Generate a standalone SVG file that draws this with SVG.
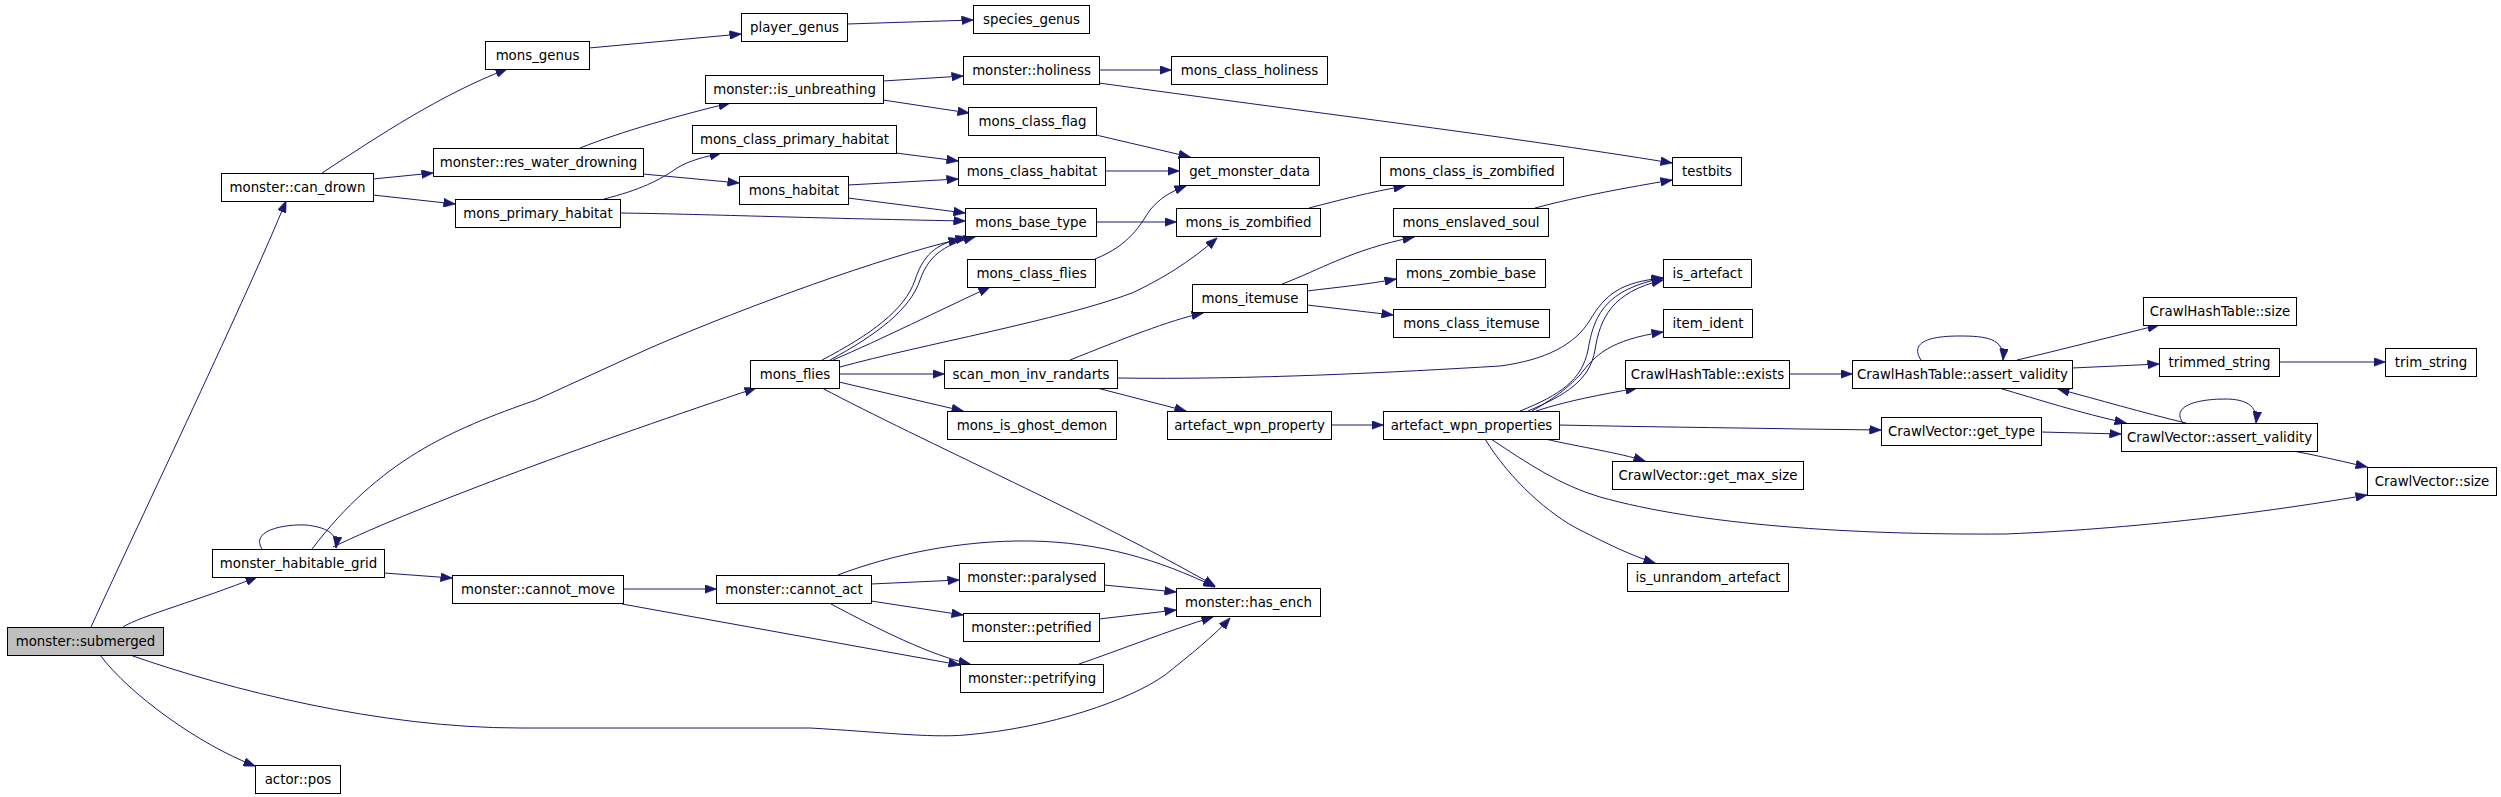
<svg xmlns="http://www.w3.org/2000/svg" width="2501" height="797" viewBox="0 0 2501 797">
<style>
.n rect{fill:#ffffff;stroke:#000000;stroke-width:1}
.n text{font-family:"DejaVu Sans","Liberation Sans",sans-serif;font-size:13.33px;fill:#000000;text-anchor:middle}
.root rect{fill:#bfbfbf}
#edges path{fill:none;stroke:#191970;stroke-width:1;marker-end:url(#ah)}
</style>
<defs>
<marker id="ah" markerUnits="userSpaceOnUse" markerWidth="12" markerHeight="9" viewBox="0 0 12 9" refX="11.5" refY="4.5" orient="auto">
<path d="M0,0 L12,4.5 L0,9 z" fill="#191970" stroke="#191970" stroke-width="0.5"/>
</marker>
</defs>
<rect x="0" y="0" width="2501" height="797" fill="#ffffff"/>
<g id="edges">
<path d="M91,627 C140,520 250,290 286,201"/>
<path d="M123,627 C140,616 200,600 257,577"/>
<path d="M130,655 C230,690 380,728 520,728 L810,728 C880,732 930,738 965,735 C1050,728 1130,700 1165,675 C1190,655 1215,635 1230,618"/>
<path d="M100,655 C130,695 200,745 255,766"/>
<path d="M262,549 C250,530 285,524 306,525 C325,527 338,533 336,548"/>
<path d="M312,549 C380,460 450,430 536,400 L650,348 C750,305 880,258 960,239"/>
<path d="M333,547 C420,505 600,440 756,388"/>
<path d="M589,48 L741,34"/>
<path d="M322,173 C380,135 440,95 507,69"/>
<path d="M373,179 L433,173"/>
<path d="M373,195 L455,204"/>
<path d="M580,148 C620,132 680,115 730,103"/>
<path d="M643,174 L739,183"/>
<path d="M604,199 C640,190 660,180 677,168 C690,160 705,157 721,153"/>
<path d="M620,213 C700,214 800,218 965,221"/>
<path d="M847,24 L973,20"/>
<path d="M883,81 L963,76"/>
<path d="M883,100 L969,113"/>
<path d="M896,153 L958,161"/>
<path d="M848,185 L958,179"/>
<path d="M848,198 L965,213"/>
<path d="M1099,70 L1171,70"/>
<path d="M1099,83 C1300,111 1500,135 1672,163"/>
<path d="M1096,135 L1190,157"/>
<path d="M1105,171 L1179,171"/>
<path d="M1095,259 C1130,245 1140,225 1150,210 C1160,198 1170,192 1186,186"/>
<path d="M1096,222 L1176,222"/>
<path d="M1309,208 C1340,200 1370,192 1405,186"/>
<path d="M1535,208 C1580,196 1630,187 1672,180"/>
<path d="M822,360 C870,335 905,310 915,280 C925,250 940,243 967,237"/>
<path d="M830,360 C876,335 910,310 920,280 C930,252 948,244 975,237"/>
<path d="M833,360 C880,340 940,310 990,287"/>
<path d="M840,367 C920,345 1060,320 1132,293 C1160,280 1190,262 1217,238"/>
<path d="M839,374 L944,374"/>
<path d="M839,382 L963,411"/>
<path d="M822,388 C920,440 1100,520 1215,586"/>
<path d="M1070,360 C1120,340 1170,320 1203,313"/>
<path d="M1117,378 C1250,380 1400,372 1500,366 C1545,360 1575,345 1590,320 C1605,295 1620,282 1663,278"/>
<path d="M1097,388 L1186,411"/>
<path d="M1282,284 C1320,270 1350,250 1414,237"/>
<path d="M1307,291 C1340,287 1370,284 1396,279"/>
<path d="M1307,305 L1393,315"/>
<path d="M1331,425 L1383,425"/>
<path d="M1520,411 C1560,395 1582,380 1588,350 C1594,315 1605,290 1663,278"/>
<path d="M1528,411 C1566,395 1590,380 1595,350 C1600,318 1612,292 1663,280"/>
<path d="M1532,411 C1560,395 1570,385 1580,375 C1595,355 1610,340 1663,332"/>
<path d="M1536,411 C1570,400 1600,395 1637,388"/>
<path d="M1559,425 C1650,427 1750,428 1800,429 L1881,430"/>
<path d="M1545,439 C1580,447 1620,453 1645,461"/>
<path d="M1491,439 C1530,465 1560,485 1600,497 C1700,525 1850,535 2006,534 C2150,528 2280,510 2367,495"/>
<path d="M1485,439 C1510,480 1550,515 1580,530 C1610,545 1630,555 1655,563"/>
<path d="M1789,374 L1852,374"/>
<path d="M1921,360 C1908,340 1935,336 1960,336 C1985,336 2005,338 2003,360"/>
<path d="M2017,360 C2060,350 2110,337 2159,325"/>
<path d="M2072,368 L2159,364"/>
<path d="M1999,388 C2040,400 2080,413 2126,423"/>
<path d="M2186,423 C2140,412 2100,400 2058,389"/>
<path d="M2183,423 C2170,405 2200,399 2225,399 C2245,399 2258,405 2256,423"/>
<path d="M2279,362 L2385,362"/>
<path d="M2041,432 L2121,434"/>
<path d="M2293,451 C2320,456 2345,462 2367,467"/>
<path d="M384,573 L452,578"/>
<path d="M623,589 L716,589"/>
<path d="M622,604 L960,665"/>
<path d="M838,575 C890,555 960,540 1030,541 C1100,542 1160,560 1215,587"/>
<path d="M871,584 L959,580"/>
<path d="M871,601 L963,615"/>
<path d="M831,604 C880,630 930,655 970,664"/>
<path d="M1104,585 L1176,592"/>
<path d="M1099,619 L1176,610"/>
<path d="M1079,664 C1120,650 1170,630 1213,617"/>
</g>
<g id="n_submerged" class="n root"><rect x="7.5" y="627.5" width="156" height="28"/><text x="85.5" y="646">monster::submerged</text></g>
<g id="n_can_drown" class="n"><rect x="221.5" y="173.5" width="152" height="28"/><text x="297.5" y="192">monster::can_drown</text></g>
<g id="n_mons_genus" class="n"><rect x="485.5" y="41.5" width="104" height="28"/><text x="537.5" y="60">mons_genus</text></g>
<g id="n_res_water_drowning" class="n"><rect x="433.5" y="148.5" width="210" height="28"/><text x="538.5" y="167">monster::res_water_drowning</text></g>
<g id="n_mons_primary_habitat" class="n"><rect x="455.5" y="199.5" width="165" height="28"/><text x="538" y="218">mons_primary_habitat</text></g>
<g id="n_habitable_grid" class="n"><rect x="212.5" y="549.5" width="172" height="28"/><text x="298.5" y="568">monster_habitable_grid</text></g>
<g id="n_cannot_move" class="n"><rect x="452.5" y="575.5" width="171" height="28"/><text x="538" y="594">monster::cannot_move</text></g>
<g id="n_actor_pos" class="n"><rect x="255.5" y="765.5" width="85" height="28"/><text x="298" y="784">actor::pos</text></g>
<g id="n_player_genus" class="n"><rect x="741.5" y="13.5" width="106" height="28"/><text x="794.5" y="32">player_genus</text></g>
<g id="n_species_genus" class="n"><rect x="973.5" y="5.5" width="116" height="28"/><text x="1031.5" y="24">species_genus</text></g>
<g id="n_holiness" class="n"><rect x="963.5" y="56.5" width="136" height="28"/><text x="1031.5" y="75">monster::holiness</text></g>
<g id="n_mons_class_holiness" class="n"><rect x="1171.5" y="56.5" width="156" height="28"/><text x="1249.5" y="75">mons_class_holiness</text></g>
<g id="n_is_unbreathing" class="n"><rect x="705.5" y="75.5" width="178" height="28"/><text x="794.5" y="94">monster::is_unbreathing</text></g>
<g id="n_mons_class_flag" class="n"><rect x="968.5" y="107.5" width="128" height="28"/><text x="1032.5" y="126">mons_class_flag</text></g>
<g id="n_mons_class_primary_habitat" class="n"><rect x="692.5" y="125.5" width="204" height="28"/><text x="794.5" y="144">mons_class_primary_habitat</text></g>
<g id="n_mons_class_habitat" class="n"><rect x="958.5" y="157.5" width="147" height="28"/><text x="1032" y="176">mons_class_habitat</text></g>
<g id="n_get_monster_data" class="n"><rect x="1179.5" y="157.5" width="140" height="28"/><text x="1249.5" y="176">get_monster_data</text></g>
<g id="n_mons_habitat" class="n"><rect x="739.5" y="176.5" width="109" height="28"/><text x="794" y="195">mons_habitat</text></g>
<g id="n_mons_base_type" class="n"><rect x="965.5" y="208.5" width="131" height="28"/><text x="1031" y="227">mons_base_type</text></g>
<g id="n_mons_is_zombified" class="n"><rect x="1176.5" y="208.5" width="144" height="28"/><text x="1248.5" y="227">mons_is_zombified</text></g>
<g id="n_mons_class_flies" class="n"><rect x="967.5" y="259.5" width="128" height="28"/><text x="1031.5" y="278">mons_class_flies</text></g>
<g id="n_mons_itemuse" class="n"><rect x="1192.5" y="284.5" width="115" height="28"/><text x="1250" y="303">mons_itemuse</text></g>
<g id="n_mons_flies" class="n"><rect x="750.5" y="360.5" width="89" height="28"/><text x="795" y="379">mons_flies</text></g>
<g id="n_scan_mon_inv_randarts" class="n"><rect x="944.5" y="360.5" width="173" height="28"/><text x="1031" y="379">scan_mon_inv_randarts</text></g>
<g id="n_mons_is_ghost_demon" class="n"><rect x="947.5" y="411.5" width="169" height="28"/><text x="1032" y="430">mons_is_ghost_demon</text></g>
<g id="n_artefact_wpn_property" class="n"><rect x="1167.5" y="411.5" width="164" height="28"/><text x="1249.5" y="430">artefact_wpn_property</text></g>
<g id="n_cannot_act" class="n"><rect x="716.5" y="575.5" width="155" height="28"/><text x="794" y="594">monster::cannot_act</text></g>
<g id="n_paralysed" class="n"><rect x="959.5" y="563.5" width="145" height="28"/><text x="1032" y="582">monster::paralysed</text></g>
<g id="n_petrified" class="n"><rect x="963.5" y="613.5" width="136" height="28"/><text x="1031.5" y="632">monster::petrified</text></g>
<g id="n_petrifying" class="n"><rect x="960.5" y="664.5" width="143" height="28"/><text x="1032" y="683">monster::petrifying</text></g>
<g id="n_has_ench" class="n"><rect x="1176.5" y="588.5" width="144" height="28"/><text x="1248.5" y="607">monster::has_ench</text></g>
<g id="n_mons_class_is_zombified" class="n"><rect x="1380.5" y="157.5" width="183" height="28"/><text x="1472" y="176">mons_class_is_zombified</text></g>
<g id="n_testbits" class="n"><rect x="1672.5" y="157.5" width="69" height="28"/><text x="1707" y="176">testbits</text></g>
<g id="n_mons_enslaved_soul" class="n"><rect x="1393.5" y="208.5" width="155" height="28"/><text x="1471" y="227">mons_enslaved_soul</text></g>
<g id="n_mons_zombie_base" class="n"><rect x="1396.5" y="259.5" width="149" height="28"/><text x="1471" y="278">mons_zombie_base</text></g>
<g id="n_mons_class_itemuse" class="n"><rect x="1393.5" y="309.5" width="156" height="28"/><text x="1471.5" y="328">mons_class_itemuse</text></g>
<g id="n_is_artefact" class="n"><rect x="1663.5" y="259.5" width="88" height="28"/><text x="1707.5" y="278">is_artefact</text></g>
<g id="n_item_ident" class="n"><rect x="1663.5" y="309.5" width="89" height="28"/><text x="1708" y="328">item_ident</text></g>
<g id="n_ht_exists" class="n"><rect x="1625.5" y="360.5" width="164" height="28"/><text x="1707.5" y="379">CrawlHashTable::exists</text></g>
<g id="n_ht_assert_validity" class="n"><rect x="1852.5" y="360.5" width="220" height="28"/><text x="1962.5" y="379">CrawlHashTable::assert_validity</text></g>
<g id="n_artefact_wpn_properties" class="n"><rect x="1383.5" y="411.5" width="176" height="28"/><text x="1471.5" y="430">artefact_wpn_properties</text></g>
<g id="n_cv_get_type" class="n"><rect x="1881.5" y="417.5" width="160" height="28"/><text x="1961.5" y="436">CrawlVector::get_type</text></g>
<g id="n_cv_get_max_size" class="n"><rect x="1612.5" y="461.5" width="191" height="28"/><text x="1708" y="480">CrawlVector::get_max_size</text></g>
<g id="n_is_unrandom_artefact" class="n"><rect x="1627.5" y="563.5" width="161" height="28"/><text x="1708" y="582">is_unrandom_artefact</text></g>
<g id="n_ht_size" class="n"><rect x="2143.5" y="297.5" width="153" height="28"/><text x="2220" y="316">CrawlHashTable::size</text></g>
<g id="n_trimmed_string" class="n"><rect x="2159.5" y="348.5" width="120" height="28"/><text x="2219.5" y="367">trimmed_string</text></g>
<g id="n_trim_string" class="n"><rect x="2385.5" y="348.5" width="91" height="28"/><text x="2431" y="367">trim_string</text></g>
<g id="n_cv_assert_validity" class="n"><rect x="2121.5" y="423.5" width="196" height="28"/><text x="2219.5" y="442">CrawlVector::assert_validity</text></g>
<g id="n_cv_size" class="n"><rect x="2367.5" y="467.5" width="129" height="28"/><text x="2432" y="486">CrawlVector::size</text></g>
</svg>
